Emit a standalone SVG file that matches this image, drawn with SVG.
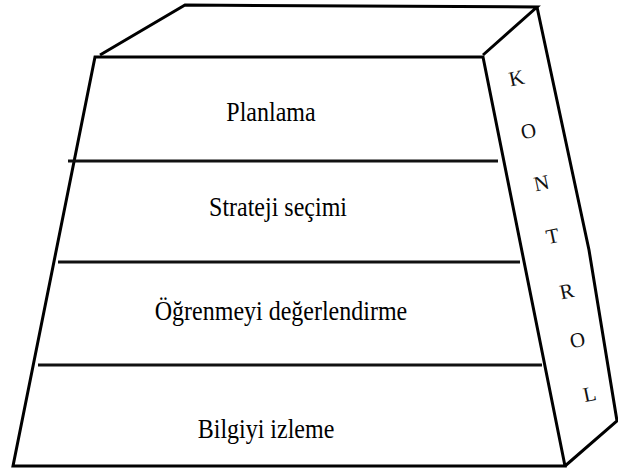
<svg xmlns="http://www.w3.org/2000/svg" width="618" height="474" viewBox="0 0 618 474">
  <style>
    .edge { fill: none; stroke: #000; stroke-width: 3; stroke-linejoin: miter; stroke-linecap: butt; }
    .divider { fill: none; stroke: #111; stroke-width: 3; }
    .label { font-family: 'Liberation Serif', 'DejaVu Serif', serif; font-size: 24px; fill: #000; text-anchor: middle; }
    .side { font-family: 'Liberation Serif', 'DejaVu Serif', serif; font-size: 21px; fill: #111; text-anchor: middle; }
  </style>
  <rect width="618" height="474" fill="#fff"/>

  <!-- block outline: top face, front face and right side face -->
  <g id="block">
    <polyline class="edge" points="100,55 185,5 537,7 483,55"/>
    <polygon class="edge" points="95,57 483,57 565,466 13,466"/>
    <polyline class="edge" points="537,7 589,250 617,421 565,466"/>
  </g>

  <!-- level separators -->
  <g id="connectors">
    <line class="divider" x1="68" y1="161" x2="498" y2="161"/>
    <line class="divider" x1="58" y1="262" x2="520" y2="262"/>
    <line class="divider" x1="38" y1="365" x2="542" y2="365"/>
  </g>

  <!-- level labels, set slightly tall -->
  <g id="planlama"><text class="label" transform="translate(271,121) scale(1,1.12)">Planlama</text></g>
  <g id="strateji-secimi"><text class="label" transform="translate(278,216) scale(1,1.12)">Strateji seçimi</text></g>
  <g id="ogrenmeyi-degerlendirme"><text class="label" transform="translate(281,320) scale(1,1.12)">Öğrenmeyi değerlendirme</text></g>
  <g id="bilgiyi-izleme"><text class="label" transform="translate(266,438) scale(1,1.12)">Bilgiyi izleme</text></g>

  <!-- side face label, one letter per step, tilted along the face -->
  <g id="kontrol">
    <text class="side" transform="translate(518,85) rotate(-12)">K</text>
    <text class="side" transform="translate(530,138) rotate(-12)">O</text>
    <text class="side" transform="translate(543,190) rotate(-12)">N</text>
    <text class="side" transform="translate(554,243) rotate(-12)">T</text>
    <text class="side" transform="translate(568,298) rotate(-12)">R</text>
    <text class="side" transform="translate(579,347) rotate(-12)">O</text>
    <text class="side" transform="translate(591,401) rotate(-12)">L</text>
  </g>
</svg>
